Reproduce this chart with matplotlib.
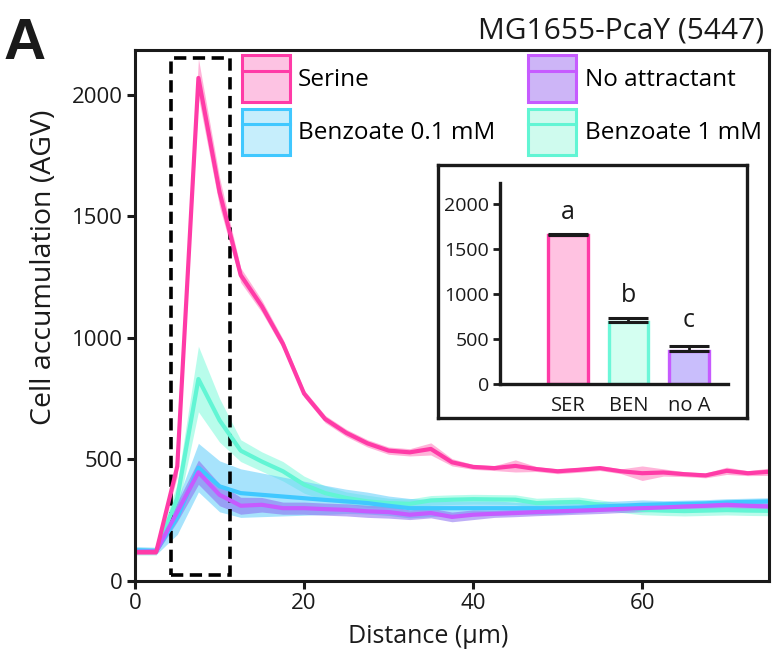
import numpy as np
import matplotlib
matplotlib.use("Agg")
import matplotlib.pyplot as plt
from matplotlib.patches import Patch, Rectangle
from matplotlib.lines import Line2D
from matplotlib.legend_handler import HandlerTuple

plt.rcParams['font.family'] = ['Open Sans', 'DejaVu Sans']

# distance along the channel (um)
distance = np.arange(0, 75.1, 2.5)

# mean accumulation and band half-width for each condition
serine = [117, 117, 470, 2070, 1600, 1258, 1130, 975, 770, 665, 608, 565, 535, 528, 542, 487,
          468, 463, 472, 459, 450, 456, 463, 450, 442, 445, 438, 433, 452, 442, 448]
serine_err = [10, 10, 40, 80, 60, 30, 25, 20, 15, 15, 15, 15, 15, 15, 25, 15,
              10, 10, 25, 10, 10, 10, 10, 10, 30, 15, 10, 10, 15, 10, 15]

benz_1 = [120, 120, 340, 830, 660, 535, 490, 450, 395, 360, 340, 326, 319, 316, 330, 333,
          335, 334, 333, 319, 322, 324, 312, 300, 291, 288, 286, 288, 290, 288, 287]
benz_1_err = [15, 15, 60, 135, 90, 45, 40, 40, 35, 30, 25, 25, 20, 20, 20, 20,
              20, 20, 20, 20, 20, 20, 20, 20, 20, 20, 20, 20, 20, 20, 20]

benz_01 = [125, 122, 260, 465, 388, 360, 353, 346, 339, 332, 326, 319, 308, 298, 298, 298,
           298, 298, 298, 298, 298, 300, 305, 308, 312, 314, 316, 318, 322, 324, 326]
benz_01_err = [15, 15, 70, 100, 105, 100, 90, 80, 70, 60, 50, 45, 40, 40, 35, 30,
               30, 30, 25, 25, 25, 20, 20, 20, 20, 15, 15, 15, 15, 15, 15]

no_attr = [118, 120, 283, 446, 353, 308, 312, 298, 298, 294, 291, 285, 282, 271, 278, 262,
           271, 275, 278, 282, 285, 288, 291, 295, 298, 301, 305, 308, 312, 308, 305]
no_attr_err = [10, 10, 40, 50, 45, 35, 30, 25, 25, 25, 25, 25, 25, 20, 20, 20,
               20, 15, 15, 15, 15, 15, 15, 15, 15, 15, 15, 15, 15, 15, 15]

# inset bar chart
bar_labels = ['SER', 'BEN', 'no A']
bar_means = [1660, 690, 370]
bar_err = [6, 45, 60]
bar_letters = ['a', 'b', 'c']
letter_y = [1905, 985, 708]

pink, teal, blue, purple = '#FF3BA7', '#62F5D4', '#40C8FF', '#C65BFF'
ink = '#1a1a1a'

fig = plt.figure(figsize=(7.72, 6.55), dpi=100)
ax = fig.add_axes([0.1749, 0.1137, 0.8212, 0.8099])

x = distance
ax.fill_between(x, np.array(benz_1) - benz_1_err, np.array(benz_1) + benz_1_err,
                color='#7FFADC', alpha=0.55, lw=0)
ax.fill_between(x, np.array(benz_01) - benz_01_err, np.array(benz_01) + benz_01_err,
                color='#5FCDFB', alpha=0.55, lw=0)
ax.fill_between(x, np.array(no_attr) - no_attr_err, np.array(no_attr) + no_attr_err,
                color='#8A6CF0', alpha=0.55, lw=0)
ax.fill_between(x, np.array(serine) - serine_err, np.array(serine) + serine_err,
                color='#FF8CC6', alpha=0.65, lw=0)
ax.plot(x, benz_1, color=teal, lw=3)
ax.plot(x, benz_01, color=blue, lw=3)
ax.plot(x, no_attr, color=purple, lw=3)
ax.plot(x, serine, color=pink, lw=3)

# dashed box around the peak
ax.add_patch(Rectangle((4.2, 23), 7.05, 2129, fill=False, ec='black', lw=2.6,
                       ls=(0, (3.4, 1.8))))

ax.set_xlim(0, 75)
ax.set_ylim(0, 2185)
ax.set_xticks([0, 20, 40, 60])
ax.set_yticks([0, 500, 1000, 1500, 2000])
ax.tick_params(labelsize=16, width=2.2, length=6, color=ink, labelcolor=ink, pad=3)
for s in ax.spines.values():
    s.set_linewidth(2.2)
    s.set_color(ink)
ax.set_xlabel('Distance (μm)', fontsize=18, color=ink)
ax.set_ylabel('Cell accumulation (AGV)', fontsize=20.5, color=ink)
ax.xaxis.set_label_coords(0.462, -0.082)
ax.yaxis.set_label_coords(-0.122, 0.59)

def handle(face, edge):
    return (Patch(facecolor=face, edgecolor=edge, lw=2.2),
            Line2D([], [], color=edge, lw=2.2))

handles = [handle('#FDC3E3', pink), handle('#C6EEFC', blue),
           handle('#CDB5F7', purple), handle('#CFFBEE', teal)]
names = ['Serine', 'Benzoate 0.1 mM', 'No attractant', 'Benzoate 1 mM']
ax.legend(handles, names, handler_map={tuple: HandlerTuple(ndivide=1)},
          loc='upper left', bbox_to_anchor=(0.168, 0.99), ncol=2, frameon=False,
          fontsize=17.5, handlelength=1.98, handleheight=2.55, handletextpad=0.35,
          labelspacing=0.3, columnspacing=1.35, borderpad=0, borderaxespad=0)

fig.text(0.99, 0.9415, 'MG1655-PcaY (5447)', ha='right', va='baseline',
         fontsize=21.5, color=ink)
fig.text(0.004, 0.91, 'A', ha='left', va='baseline', fontsize=42,
         fontweight='bold', family='Liberation Sans', color=ink)

# inset frame
frame = fig.add_axes([0.5674, 0.3618, 0.4003, 0.3863])
frame.set_xticks([])
frame.set_yticks([])
for s in frame.spines.values():
    s.set_linewidth(2.4)
    s.set_color(ink)

ins = fig.add_axes([0.6477, 0.413, 0.2953, 0.3076])
ins.patch.set_alpha(0)
pos = np.arange(len(bar_labels))
ins.bar(pos, bar_means, width=0.66, color=['#FFC2E1', '#D4FFF1', '#C9BEFC'],
        edgecolor=[pink, '#6CF7D8', purple], lw=2.4)
ins.errorbar(pos, bar_means, yerr=[[0, 0, 0], bar_err], fmt='none', ecolor=ink,
             elinewidth=2, capsize=14.5, capthick=2.2)
for p, t, ty in zip(pos, bar_letters, letter_y):
    ins.text(p, ty, t, ha='center', va='center', fontsize=18, color=ink)
ins.set_xlim(-1.124, 2.645)
ins.set_ylim(0, 2230)
ins.set_yticks([0, 500, 1000, 1500, 2000])
ins.set_xticks(pos)
ins.set_xticklabels(bar_labels)
ins.tick_params(axis='y', labelsize=14, width=2, length=5, color=ink, labelcolor=ink, pad=3)
ins.tick_params(axis='x', labelsize=14.5, length=0, labelcolor=ink, pad=8)
ins.spines['top'].set_visible(False)
ins.spines['right'].set_visible(False)
for s in ['left', 'bottom']:
    ins.spines[s].set_linewidth(2.4)
    ins.spines[s].set_color(ink)

fig.savefig('out.png', dpi=100)
